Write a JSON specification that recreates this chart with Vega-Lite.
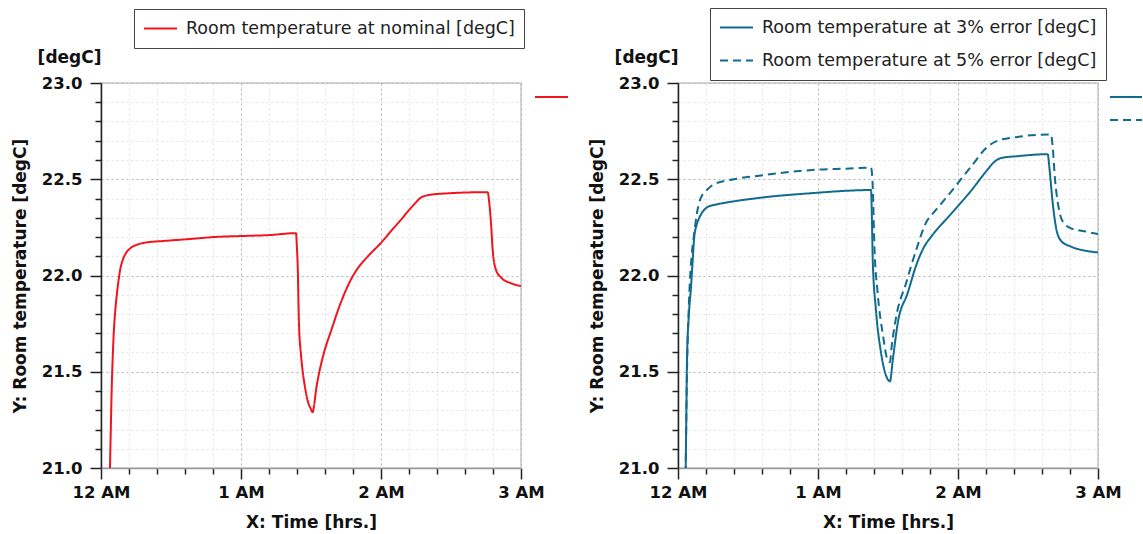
{
  "$schema": "https://vega.github.io/schema/vega-lite/v6.json",
  "padding": {"left": 10, "top": 6, "right": 0, "bottom": 0},
  "bounds": "flush",
  "spacing": 157,
  "resolve": {
    "scale": {"color": "independent", "strokeDash": "independent", "opacity": "independent"},
    "legend": {"color": "independent", "strokeDash": "independent", "opacity": "independent"}
  },
  "config": {
    "font": "DejaVu Sans",
    "view": {"stroke": "#c8c8c8", "strokeWidth": 1.5},
    "axis": {
      "labelFont": "DejaVu Sans", "labelFontSize": 16.5, "labelFontWeight": "bold", "labelColor": "#111",
      "titleFont": "DejaVu Sans", "titleFontSize": 17, "titleFontWeight": "bold", "titleColor": "#111",
      "labelFlush": false, "labelOverlap": false, "labelBound": false,
      "tickColor": "#222", "tickWidth": 1.5, "gridDash": [2, 3], "gridWidth": 1
    },
    "legend": {"labelFont": "DejaVu Sans", "labelLimit": 0}
  },
  "hconcat": [
    {
      "width": 420, "height": 385,
      "data": {"values": [
        {"t": 0.05, "T": 20.6, "s": "Room temperature at nominal [degC]"},
        {"t": 0.064, "T": 21.0, "s": "Room temperature at nominal [degC]"},
        {"t": 0.07, "T": 21.2, "s": "Room temperature at nominal [degC]"},
        {"t": 0.076, "T": 21.4, "s": "Room temperature at nominal [degC]"},
        {"t": 0.083, "T": 21.56, "s": "Room temperature at nominal [degC]"},
        {"t": 0.091, "T": 21.7, "s": "Room temperature at nominal [degC]"},
        {"t": 0.1, "T": 21.8, "s": "Room temperature at nominal [degC]"},
        {"t": 0.11, "T": 21.88, "s": "Room temperature at nominal [degC]"},
        {"t": 0.121, "T": 21.95, "s": "Room temperature at nominal [degC]"},
        {"t": 0.137, "T": 22.03, "s": "Room temperature at nominal [degC]"},
        {"t": 0.155, "T": 22.08, "s": "Room temperature at nominal [degC]"},
        {"t": 0.177, "T": 22.115, "s": "Room temperature at nominal [degC]"},
        {"t": 0.207, "T": 22.14, "s": "Room temperature at nominal [degC]"},
        {"t": 0.257, "T": 22.16, "s": "Room temperature at nominal [degC]"},
        {"t": 0.31, "T": 22.17, "s": "Room temperature at nominal [degC]"},
        {"t": 0.46, "T": 22.18, "s": "Room temperature at nominal [degC]"},
        {"t": 0.643, "T": 22.19, "s": "Room temperature at nominal [degC]"},
        {"t": 0.81, "T": 22.2, "s": "Room temperature at nominal [degC]"},
        {"t": 1.0, "T": 22.205, "s": "Room temperature at nominal [degC]"},
        {"t": 1.2, "T": 22.21, "s": "Room temperature at nominal [degC]"},
        {"t": 1.393, "T": 22.22, "s": "Room temperature at nominal [degC]"},
        {"t": 1.399, "T": 22.15, "s": "Room temperature at nominal [degC]"},
        {"t": 1.405, "T": 22.05, "s": "Room temperature at nominal [degC]"},
        {"t": 1.414, "T": 21.75, "s": "Room temperature at nominal [degC]"},
        {"t": 1.427, "T": 21.6, "s": "Room temperature at nominal [degC]"},
        {"t": 1.441, "T": 21.5, "s": "Room temperature at nominal [degC]"},
        {"t": 1.457, "T": 21.42, "s": "Room temperature at nominal [degC]"},
        {"t": 1.476, "T": 21.35, "s": "Room temperature at nominal [degC]"},
        {"t": 1.497, "T": 21.31, "s": "Room temperature at nominal [degC]"},
        {"t": 1.512, "T": 21.29, "s": "Room temperature at nominal [degC]"},
        {"t": 1.521, "T": 21.32, "s": "Room temperature at nominal [degC]"},
        {"t": 1.537, "T": 21.41, "s": "Room temperature at nominal [degC]"},
        {"t": 1.557, "T": 21.49, "s": "Room temperature at nominal [degC]"},
        {"t": 1.593, "T": 21.6, "s": "Room temperature at nominal [degC]"},
        {"t": 1.647, "T": 21.72, "s": "Room temperature at nominal [degC]"},
        {"t": 1.693, "T": 21.82, "s": "Room temperature at nominal [degC]"},
        {"t": 1.747, "T": 21.92, "s": "Room temperature at nominal [degC]"},
        {"t": 1.786, "T": 21.98, "s": "Room temperature at nominal [degC]"},
        {"t": 1.827, "T": 22.03, "s": "Room temperature at nominal [degC]"},
        {"t": 1.907, "T": 22.1, "s": "Room temperature at nominal [degC]"},
        {"t": 2.0, "T": 22.17, "s": "Room temperature at nominal [degC]"},
        {"t": 2.071, "T": 22.23, "s": "Room temperature at nominal [degC]"},
        {"t": 2.143, "T": 22.29, "s": "Room temperature at nominal [degC]"},
        {"t": 2.2, "T": 22.34, "s": "Room temperature at nominal [degC]"},
        {"t": 2.25, "T": 22.38, "s": "Room temperature at nominal [degC]"},
        {"t": 2.286, "T": 22.405, "s": "Room temperature at nominal [degC]"},
        {"t": 2.357, "T": 22.42, "s": "Room temperature at nominal [degC]"},
        {"t": 2.48, "T": 22.427, "s": "Room temperature at nominal [degC]"},
        {"t": 2.762, "T": 22.433, "s": "Room temperature at nominal [degC]"},
        {"t": 2.773, "T": 22.38, "s": "Room temperature at nominal [degC]"},
        {"t": 2.786, "T": 22.27, "s": "Room temperature at nominal [degC]"},
        {"t": 2.798, "T": 22.13, "s": "Room temperature at nominal [degC]"},
        {"t": 2.821, "T": 22.03, "s": "Room temperature at nominal [degC]"},
        {"t": 2.857, "T": 21.99, "s": "Room temperature at nominal [degC]"},
        {"t": 2.928, "T": 21.96, "s": "Room temperature at nominal [degC]"},
        {"t": 3.0, "T": 21.945, "s": "Room temperature at nominal [degC]"}
      ]},
      "encoding": {
        "x": {"field": "t", "type": "quantitative",
          "scale": {"domain": [0, 3], "nice": false, "zero": false},
          "axis": {
            "title": "X: Time [hrs.]",
            "values": [0, 0.2, 0.4, 0.6, 0.8, 1, 1.2, 1.4, 1.6, 1.8, 2, 2.2, 2.4, 2.6, 2.8, 3],
            "labelExpr": "abs(datum.value - round(datum.value)) < 0.001 ? (round(datum.value) == 0 ? '12 AM' : round(datum.value) + ' AM') : ''",
            "tickSize": {"condition": {"test": "abs(datum.value - round(datum.value)) < 0.001", "value": 11}, "value": 6},
            "gridColor": {"condition": {"test": "abs(datum.value - round(datum.value)) < 0.001", "value": "#b4b4b4"}, "value": "#e2e2e2"},
            "domainColor": "#9a9a9a", "domainWidth": 1.5,
            "labelPadding": 5,
            "titleY": 54, "titleBaseline": "middle"
          }
        }
      },
      "layer": [
        {
          "mark": {"type": "line", "strokeWidth": 2, "clip": true, "interpolate": "monotone"},
          "encoding": {
            "y": {"field": "T", "type": "quantitative",
              "scale": {"domain": [21, 23], "nice": false, "zero": false},
              "axis": {
                "title": "Y: Room temperature [degC]",
                "values": [21, 21.1, 21.2, 21.3, 21.4, 21.5, 21.6, 21.7, 21.8, 21.9, 22, 22.1, 22.2, 22.3, 22.4, 22.5, 22.6, 22.7, 22.8, 22.9, 23],
                "labelExpr": "abs(datum.value * 2 - round(datum.value * 2)) < 0.001 ? format(datum.value, '.1f') : ''",
                "tickSize": {"condition": {"test": "abs(datum.value * 2 - round(datum.value * 2)) < 0.001", "value": 11}, "value": 6},
                "gridColor": {"condition": {"test": "abs(datum.value * 2 - round(datum.value * 2)) < 0.001", "value": "#b4b4b4"}, "value": "#e2e2e2"},
                "domainColor": "#222", "domainWidth": 1.5,
                "labelPadding": 8,
                "titleX": -81, "titleY": 192.5, "titleBaseline": "middle", "titleAlign": "center"
              }
            },
            "color": {"field": "s", "type": "nominal",
              "scale": {"domain": ["Room temperature at nominal [degC]"], "range": ["#f0141e"]},
              "legend": {"orient": "none", "legendX": 33, "legendY": -74, "title": null, "symbolType": "stroke", "symbolSize": 1089, "symbolStrokeWidth": 2, "labelFontSize": 17.5, "labelColor": "#222", "labelOffset": 8, "padding": 9, "strokeColor": "#444", "clipHeight": 21, "rowPadding": 12}
            },
            "strokeDash": {"field": "s", "type": "nominal",
              "scale": {"domain": ["Room temperature at nominal [degC]"], "range": [[1, 0]]},
              "legend": {"orient": "none", "legendX": 33, "legendY": -74, "title": null, "symbolType": "stroke", "symbolSize": 1089, "symbolStrokeWidth": 2, "labelFontSize": 17.5, "labelColor": "#222", "labelOffset": 8, "padding": 9, "strokeColor": "#444", "clipHeight": 21, "rowPadding": 12}
            },
            "opacity": {"field": "s", "type": "nominal",
              "scale": {"range": [1, 1]},
              "legend": {"orient": "none", "legendX": 433, "legendY": 3, "title": null, "symbolType": "stroke", "symbolSize": 1089, "symbolStrokeWidth": 2, "symbolStrokeColor": "#f0141e", "labelExpr": "''", "labelFontSize": 17.5, "labelOffset": 0, "padding": 0, "clipHeight": 22, "rowPadding": 1}
            }
          }
        },
        {
          "mark": {"type": "line", "opacity": 0},
          "encoding": {
            "y": {"field": "T", "type": "quantitative",
              "scale": {"domain": [21, 23], "nice": false, "zero": false},
              "axis": {"orient": "left", "title": "[degC]", "titleAngle": 0, "titleX": 0, "titleY": -26, "titleAlign": "right", "titleBaseline": "middle", "domain": false, "ticks": false, "labels": false, "grid": false}
            }
          }
        }
      ],
      "resolve": {"scale": {"y": "independent"}}
    },
    {
      "width": 420, "height": 385,
      "data": {"values": [
        {"t": 0.048, "T": 20.7, "s": "Room temperature at 3% error [degC]"},
        {"t": 0.055, "T": 21.0, "s": "Room temperature at 3% error [degC]"},
        {"t": 0.06, "T": 21.3, "s": "Room temperature at 3% error [degC]"},
        {"t": 0.064, "T": 21.56, "s": "Room temperature at 3% error [degC]"},
        {"t": 0.078, "T": 21.8, "s": "Room temperature at 3% error [degC]"},
        {"t": 0.093, "T": 21.94, "s": "Room temperature at 3% error [degC]"},
        {"t": 0.105, "T": 22.08, "s": "Room temperature at 3% error [degC]"},
        {"t": 0.116, "T": 22.2, "s": "Room temperature at 3% error [degC]"},
        {"t": 0.132, "T": 22.26, "s": "Room temperature at 3% error [degC]"},
        {"t": 0.152, "T": 22.3, "s": "Room temperature at 3% error [degC]"},
        {"t": 0.18, "T": 22.335, "s": "Room temperature at 3% error [degC]"},
        {"t": 0.212, "T": 22.356, "s": "Room temperature at 3% error [degC]"},
        {"t": 0.28, "T": 22.37, "s": "Room temperature at 3% error [degC]"},
        {"t": 0.355, "T": 22.38, "s": "Room temperature at 3% error [degC]"},
        {"t": 0.6, "T": 22.405, "s": "Room temperature at 3% error [degC]"},
        {"t": 0.998, "T": 22.43, "s": "Room temperature at 3% error [degC]"},
        {"t": 1.2, "T": 22.44, "s": "Room temperature at 3% error [degC]"},
        {"t": 1.379, "T": 22.444, "s": "Room temperature at 3% error [degC]"},
        {"t": 1.385, "T": 22.3, "s": "Room temperature at 3% error [degC]"},
        {"t": 1.391, "T": 22.08, "s": "Room temperature at 3% error [degC]"},
        {"t": 1.414, "T": 21.82, "s": "Room temperature at 3% error [degC]"},
        {"t": 1.45, "T": 21.6, "s": "Room temperature at 3% error [degC]"},
        {"t": 1.486, "T": 21.48, "s": "Room temperature at 3% error [degC]"},
        {"t": 1.514, "T": 21.45, "s": "Room temperature at 3% error [degC]"},
        {"t": 1.534, "T": 21.56, "s": "Room temperature at 3% error [degC]"},
        {"t": 1.569, "T": 21.75, "s": "Room temperature at 3% error [degC]"},
        {"t": 1.641, "T": 21.91, "s": "Room temperature at 3% error [degC]"},
        {"t": 1.7, "T": 22.05, "s": "Room temperature at 3% error [degC]"},
        {"t": 1.759, "T": 22.15, "s": "Room temperature at 3% error [degC]"},
        {"t": 1.807, "T": 22.2, "s": "Room temperature at 3% error [degC]"},
        {"t": 1.95, "T": 22.32, "s": "Room temperature at 3% error [degC]"},
        {"t": 2.093, "T": 22.44, "s": "Room temperature at 3% error [degC]"},
        {"t": 2.2, "T": 22.54, "s": "Room temperature at 3% error [degC]"},
        {"t": 2.259, "T": 22.59, "s": "Room temperature at 3% error [degC]"},
        {"t": 2.307, "T": 22.61, "s": "Room temperature at 3% error [degC]"},
        {"t": 2.426, "T": 22.62, "s": "Room temperature at 3% error [degC]"},
        {"t": 2.641, "T": 22.63, "s": "Room temperature at 3% error [degC]"},
        {"t": 2.652, "T": 22.565, "s": "Room temperature at 3% error [degC]"},
        {"t": 2.676, "T": 22.38, "s": "Room temperature at 3% error [degC]"},
        {"t": 2.7, "T": 22.25, "s": "Room temperature at 3% error [degC]"},
        {"t": 2.736, "T": 22.18, "s": "Room temperature at 3% error [degC]"},
        {"t": 2.807, "T": 22.15, "s": "Room temperature at 3% error [degC]"},
        {"t": 2.902, "T": 22.13, "s": "Room temperature at 3% error [degC]"},
        {"t": 3.0, "T": 22.12, "s": "Room temperature at 3% error [degC]"},
        {"t": 0.048, "T": 20.7, "s": "Room temperature at 5% error [degC]"},
        {"t": 0.055, "T": 21.0, "s": "Room temperature at 5% error [degC]"},
        {"t": 0.06, "T": 21.3, "s": "Room temperature at 5% error [degC]"},
        {"t": 0.066, "T": 21.56, "s": "Room temperature at 5% error [degC]"},
        {"t": 0.073, "T": 21.75, "s": "Room temperature at 5% error [degC]"},
        {"t": 0.081, "T": 21.91, "s": "Room temperature at 5% error [degC]"},
        {"t": 0.097, "T": 22.1, "s": "Room temperature at 5% error [degC]"},
        {"t": 0.116, "T": 22.22, "s": "Room temperature at 5% error [degC]"},
        {"t": 0.132, "T": 22.31, "s": "Room temperature at 5% error [degC]"},
        {"t": 0.152, "T": 22.38, "s": "Room temperature at 5% error [degC]"},
        {"t": 0.175, "T": 22.42, "s": "Room temperature at 5% error [degC]"},
        {"t": 0.2, "T": 22.44, "s": "Room temperature at 5% error [degC]"},
        {"t": 0.259, "T": 22.475, "s": "Room temperature at 5% error [degC]"},
        {"t": 0.4, "T": 22.5, "s": "Room temperature at 5% error [degC]"},
        {"t": 0.593, "T": 22.52, "s": "Room temperature at 5% error [degC]"},
        {"t": 0.998, "T": 22.55, "s": "Room temperature at 5% error [degC]"},
        {"t": 1.2, "T": 22.555, "s": "Room temperature at 5% error [degC]"},
        {"t": 1.379, "T": 22.56, "s": "Room temperature at 5% error [degC]"},
        {"t": 1.391, "T": 22.46, "s": "Room temperature at 5% error [degC]"},
        {"t": 1.402, "T": 22.17, "s": "Room temperature at 5% error [degC]"},
        {"t": 1.426, "T": 21.91, "s": "Room temperature at 5% error [degC]"},
        {"t": 1.462, "T": 21.7, "s": "Room temperature at 5% error [degC]"},
        {"t": 1.498, "T": 21.56, "s": "Room temperature at 5% error [degC]"},
        {"t": 1.514, "T": 21.55, "s": "Room temperature at 5% error [degC]"},
        {"t": 1.526, "T": 21.63, "s": "Room temperature at 5% error [degC]"},
        {"t": 1.557, "T": 21.78, "s": "Room temperature at 5% error [degC]"},
        {"t": 1.629, "T": 21.96, "s": "Room temperature at 5% error [degC]"},
        {"t": 1.7, "T": 22.13, "s": "Room temperature at 5% error [degC]"},
        {"t": 1.784, "T": 22.29, "s": "Room temperature at 5% error [degC]"},
        {"t": 1.807, "T": 22.31, "s": "Room temperature at 5% error [degC]"},
        {"t": 1.95, "T": 22.435, "s": "Room temperature at 5% error [degC]"},
        {"t": 2.093, "T": 22.565, "s": "Room temperature at 5% error [degC]"},
        {"t": 2.212, "T": 22.67, "s": "Room temperature at 5% error [degC]"},
        {"t": 2.283, "T": 22.7, "s": "Room temperature at 5% error [degC]"},
        {"t": 2.426, "T": 22.72, "s": "Room temperature at 5% error [degC]"},
        {"t": 2.664, "T": 22.733, "s": "Room temperature at 5% error [degC]"},
        {"t": 2.676, "T": 22.67, "s": "Room temperature at 5% error [degC]"},
        {"t": 2.693, "T": 22.5, "s": "Room temperature at 5% error [degC]"},
        {"t": 2.717, "T": 22.36, "s": "Room temperature at 5% error [degC]"},
        {"t": 2.748, "T": 22.28, "s": "Room temperature at 5% error [degC]"},
        {"t": 2.807, "T": 22.245, "s": "Room temperature at 5% error [degC]"},
        {"t": 2.902, "T": 22.23, "s": "Room temperature at 5% error [degC]"},
        {"t": 3.0, "T": 22.215, "s": "Room temperature at 5% error [degC]"}
      ]},
      "encoding": {
        "x": {"field": "t", "type": "quantitative",
          "scale": {"domain": [0, 3], "nice": false, "zero": false},
          "axis": {
            "title": "X: Time [hrs.]",
            "values": [0, 0.2, 0.4, 0.6, 0.8, 1, 1.2, 1.4, 1.6, 1.8, 2, 2.2, 2.4, 2.6, 2.8, 3],
            "labelExpr": "abs(datum.value - round(datum.value)) < 0.001 ? (round(datum.value) == 0 ? '12 AM' : round(datum.value) + ' AM') : ''",
            "tickSize": {"condition": {"test": "abs(datum.value - round(datum.value)) < 0.001", "value": 11}, "value": 6},
            "gridColor": {"condition": {"test": "abs(datum.value - round(datum.value)) < 0.001", "value": "#b4b4b4"}, "value": "#e2e2e2"},
            "domainColor": "#9a9a9a", "domainWidth": 1.5,
            "labelPadding": 5,
            "titleY": 54, "titleBaseline": "middle"
          }
        }
      },
      "layer": [
        {
          "mark": {"type": "line", "strokeWidth": 2, "clip": true, "interpolate": "monotone"},
          "encoding": {
            "y": {"field": "T", "type": "quantitative",
              "scale": {"domain": [21, 23], "nice": false, "zero": false},
              "axis": {
                "title": "Y: Room temperature [degC]",
                "values": [21, 21.1, 21.2, 21.3, 21.4, 21.5, 21.6, 21.7, 21.8, 21.9, 22, 22.1, 22.2, 22.3, 22.4, 22.5, 22.6, 22.7, 22.8, 22.9, 23],
                "labelExpr": "abs(datum.value * 2 - round(datum.value * 2)) < 0.001 ? format(datum.value, '.1f') : ''",
                "tickSize": {"condition": {"test": "abs(datum.value * 2 - round(datum.value * 2)) < 0.001", "value": 11}, "value": 6},
                "gridColor": {"condition": {"test": "abs(datum.value * 2 - round(datum.value * 2)) < 0.001", "value": "#b4b4b4"}, "value": "#e2e2e2"},
                "domainColor": "#222", "domainWidth": 1.5,
                "labelPadding": 8,
                "titleX": -81, "titleY": 192.5, "titleBaseline": "middle", "titleAlign": "center"
              }
            },
            "color": {"field": "s", "type": "nominal",
              "scale": {"domain": ["Room temperature at 3% error [degC]", "Room temperature at 5% error [degC]"], "range": ["#106b8e", "#106b8e"]},
              "legend": {"orient": "none", "legendX": 32, "legendY": -75, "title": null, "symbolType": "stroke", "symbolSize": 1089, "symbolStrokeWidth": 2, "labelFontSize": 17.5, "labelColor": "#222", "labelOffset": 8, "padding": 9, "strokeColor": "#444", "clipHeight": 21, "rowPadding": 12}
            },
            "strokeDash": {"field": "s", "type": "nominal",
              "scale": {"domain": ["Room temperature at 3% error [degC]", "Room temperature at 5% error [degC]"], "range": [[1, 0], [8, 5]]},
              "legend": {"orient": "none", "legendX": 32, "legendY": -75, "title": null, "symbolType": "stroke", "symbolSize": 1089, "symbolStrokeWidth": 2, "labelFontSize": 17.5, "labelColor": "#222", "labelOffset": 8, "padding": 9, "strokeColor": "#444", "clipHeight": 21, "rowPadding": 12}
            },
            "opacity": {"field": "s", "type": "nominal",
              "scale": {"range": [1, 1]},
              "legend": {"orient": "none", "legendX": 431, "legendY": 3, "title": null, "symbolType": "stroke", "symbolSize": 1024, "symbolStrokeWidth": 2, "symbolStrokeColor": "#106b8e", "labelExpr": "''", "labelFontSize": 17.5, "labelOffset": 0, "padding": 0, "clipHeight": 22, "rowPadding": 1,
                "encode": {"symbols": {"update": {"strokeDash": {"signal": "datum.value === 'Room temperature at 5% error [degC]' ? [8, 5] : [1, 0]"}}}}
              }
            }
          }
        },
        {
          "mark": {"type": "line", "opacity": 0},
          "encoding": {
            "y": {"field": "T", "type": "quantitative",
              "scale": {"domain": [21, 23], "nice": false, "zero": false},
              "axis": {"orient": "left", "title": "[degC]", "titleAngle": 0, "titleX": 0, "titleY": -26, "titleAlign": "right", "titleBaseline": "middle", "domain": false, "ticks": false, "labels": false, "grid": false}
            }
          }
        }
      ],
      "resolve": {"scale": {"y": "independent"}}
    }
  ]
}
